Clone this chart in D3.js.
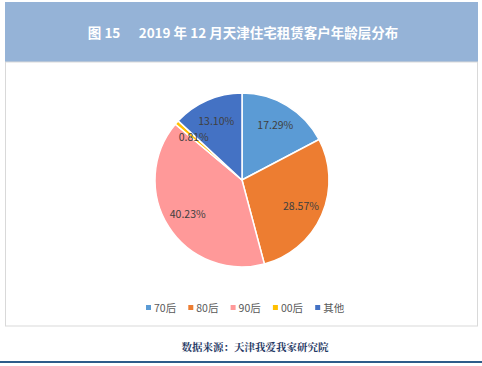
<!DOCTYPE html>
<html>
<head>
<meta charset="utf-8">
<script src="https://cdn.jsdelivr.net/npm/d3@7"></script>
<style>
  body { margin: 0; background: #fff; }
  svg { display: block; font-family: "Noto Sans CJK SC", "Noto Sans", sans-serif; }
</style>
</head>
<body>
<div id="chart"></div>
<script>
// age groups and their share (%)
let categories = ["70后", "80后", "90后", "00后", "其他"];
let shares = [17.29, 28.57, 40.23, 0.81, 13.10];
let colors = ["#5b9bd5", "#ed7d31", "#ff9999", "#ffc000", "#4472c4"];

const W = 482, H = 366;
const svg = d3.select("#chart").append("svg").attr("width", W).attr("height", H);

// title band
svg.append("rect").attr("x", 5).attr("y", 2).attr("width", 473).attr("height", 60).attr("fill", "#95b3d7");
svg.append("text")
  .attr("x", 243).attr("y", 38)
  .attr("text-anchor", "middle")
  .attr("fill", "#fff")
  .style("font-size", "13.5px")
  .style("font-weight", "700")
  .attr("xml:space", "preserve")
  .text("图 15      2019 年 12 月天津住宅租赁客户年龄层分布");

// chart frame
svg.append("rect").attr("x", 5.5).attr("y", 62).attr("width", 472).attr("height", 264)
  .attr("fill", "none").attr("stroke", "#d9d9d9").attr("stroke-width", 1);

// pie
const cx = 242, cy = 180, r = 87;
const pie = d3.pie().sort(null).value(d => d.v);
const arcs = pie(categories.map((c, i) => ({ c: c, v: shares[i], col: colors[i] })));
const arc = d3.arc().innerRadius(0).outerRadius(r);
const labelArc = d3.arc().innerRadius(r * 0.74).outerRadius(r * 0.74);

const g = svg.append("g").attr("transform", `translate(${cx},${cy})`);
g.selectAll("path").data(arcs).join("path")
  .attr("d", arc)
  .attr("fill", d => d.data.col)
  .attr("stroke", "#fff")
  .attr("stroke-width", 1.5);

g.selectAll("text").data(arcs).join("text")
  .attr("transform", d => `translate(${labelArc.centroid(d)})`)
  .attr("text-anchor", "middle")
  .attr("dy", "0.35em")
  .attr("fill", "#404040")
  .style("font-size", "10.5px")
  .text(d => d.data.v.toFixed(2) + "%");

// legend
const legend = svg.append("g");
categories.map((c, i) => {
  const x = 146 + 42.3 * i;
  legend.append("rect").attr("x", x).attr("y", 305).attr("width", 5).attr("height", 5).attr("fill", colors[i]);
  legend.append("text").attr("x", x + 8).attr("y", 311.5)
    .attr("fill", "#595959").style("font-size", "10.5px").text(c);
});

// source note
svg.append("text")
  .attr("x", 255).attr("y", 351)
  .attr("text-anchor", "middle")
  .attr("fill", "#1f3864")
  .style("font-size", "10.5px")
  .style("font-weight", "700")
  .style("font-family", "'Noto Serif CJK SC', 'Noto Sans CJK SC', serif")
  .text("数据来源：天津我爱我家研究院");

svg.append("rect").attr("x", 0).attr("y", 361).attr("width", W).attr("height", 2).attr("fill", "#2e5c8a");
</script>
</body>
</html>
